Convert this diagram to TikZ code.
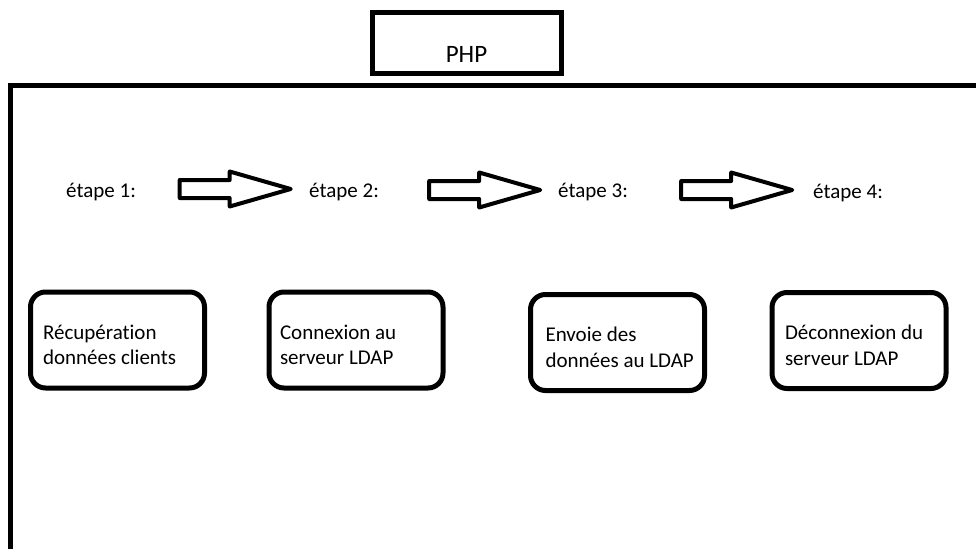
\documentclass[tikz,border=0pt]{standalone}
\usepackage{fontspec}
\setmainfont{Carlito}[Ligatures=NoCommon]
\usepackage{tikz}
\usetikzlibrary{
    arrows.meta,
    positioning,
    shapes,
    shapes.arrows,
}
\tikzstyle{frame}=[line width=5pt]
\tikzstyle{titre}=[draw,rectangle,line width=5pt,minimum width=189pt,minimum height=61pt,font=\fontsize{25}{30}\selectfont,text height=40pt,text depth=1pt]
\tikzstyle{etape}=[anchor=base west,inner sep=0pt,font=\fontsize{21}{26}\selectfont]
\tikzstyle{fleche}=[draw,single arrow,line width=4pt,line join=round,minimum height=111pt,inner xsep=0pt,inner ysep=7pt,single arrow head extend=8.5pt,single arrow tip angle=32]
\tikzstyle{tache}=[draw,rectangle,rounded corners=15pt,line width=5pt,minimum width=174pt,minimum height=96pt,text width=154pt,inner xsep=10pt,align=flush left,font=\fontsize{21}{25.5}\selectfont,execute at begin node={\rule{0pt}{24pt}}]
\newcommand{\Etape}[3]{%
    \node[etape] (#1) at (#2) {#3};
}
\begin{document}
\begin{tikzpicture}[x=1pt,y=-1pt]
    \useasboundingbox (0,0) rectangle (976,549);

    % cadre PHP
    \draw[frame] (10.5,549) -- (10.5,85.5) -- (976,85.5);
    \node[titre] (PHP) at (466.5,42.5) {PHP};

    % etapes
    \Etape{etape1}{66,197}{étape 1:}
    \Etape{etape2}{309,197}{étape 2:}
    \Etape{etape3}{558,197}{étape 3:}
    \Etape{etape4}{813,198}{étape 4:}

    \node[fleche] (arr1) at (219.5,189) {};
    \node[fleche] (arr2) at (469,190) {};
    \node[fleche] (arr3) at (721,190) {};

    % taches
    \node[tache] (Recup) at (117.5,340) {\hspace*{2.5pt}Récupération\\\hspace*{2.5pt}données clients};
    \node[tache] (Connexion) at (356,340) {\hspace*{1pt}Connexion au\\\hspace*{1pt}serveur LDAP};
    \node[tache] (Envoie) at (617.5,342.5) {\hspace*{5pt}Envoie des\\\hspace*{5pt}données au LDAP};
    \node[tache] (Deconnexion) at (859,340.5) {\hspace*{3pt}Déconnexion du\\\hspace*{3pt}serveur LDAP};
\end{tikzpicture}
\end{document}
